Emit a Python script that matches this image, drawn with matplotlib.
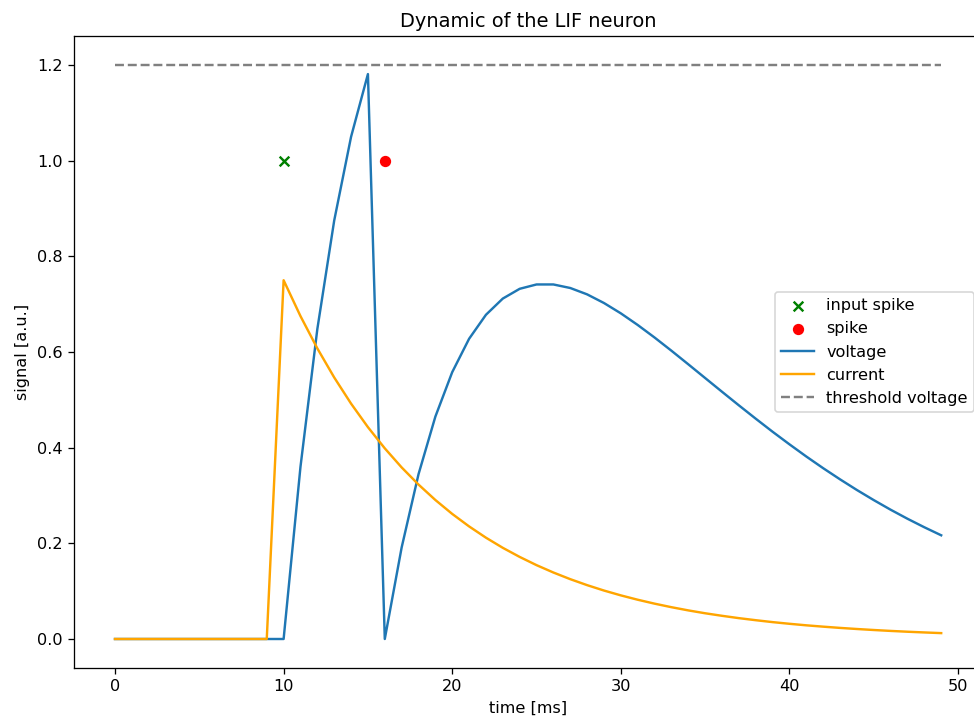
import numpy as np
import matplotlib
matplotlib.use("Agg")
import matplotlib.pyplot as plt

# time steps [ms]
time = list(range(50))

# synaptic current
current = [0.0] * 10 + [
    0.750, 0.675, 0.6075, 0.5468, 0.4921, 0.4429, 0.3986, 0.3587, 0.3229, 0.2906,
    0.2615, 0.2354, 0.2118, 0.1906, 0.1716, 0.1544, 0.1390, 0.1251, 0.1126, 0.1013,
    0.0912, 0.0821, 0.0739, 0.0665, 0.0598, 0.0538, 0.0485, 0.0436, 0.0393, 0.0353,
    0.0318, 0.0286, 0.0258, 0.0232, 0.0209, 0.0188, 0.0169, 0.0152, 0.0137, 0.0123,
]

# membrane voltage
voltage = [0.0] * 11 + [
    0.360, 0.648, 0.8748, 1.0498, 1.1810, 0.0,
    0.1913, 0.3444, 0.4649, 0.5579, 0.6276, 0.6778, 0.7117, 0.7321, 0.7412, 0.7412,
    0.7338, 0.7205, 0.7024, 0.6808, 0.6565, 0.6303, 0.6027, 0.5743, 0.5456, 0.5169,
    0.4885, 0.4606, 0.4333, 0.4070, 0.3815, 0.3571, 0.3338, 0.3115, 0.2904, 0.2703,
    0.2514, 0.2336, 0.2168,
]

threshold = 1.2
input_spike_t = [10]
input_spike_y = [1.0]
spike_t = [16]
spike_y = [1.0]

# the reference looks like a slightly upscaled default figure
dpi = 116
fig = plt.figure(figsize=(974 / dpi, 719 / dpi), dpi=dpi)
ax = fig.add_axes([73.7 / 974, 1 - 667.7 / 719, (982.5 - 73.7) / 974, (667.7 - 36.3) / 719])

ax.scatter(input_spike_t, input_spike_y, marker="x", color="green", label="input spike")
ax.scatter(spike_t, spike_y, marker="o", color="red", label="spike")
ax.plot(time, voltage, label="voltage")
ax.plot(time, current, color="orange", label="current")
ax.plot(time, [threshold] * len(time), "--", color="gray", label="threshold voltage")

ax.set_title("Dynamic of the LIF neuron")
ax.set_xlabel("time [ms]")
ax.set_ylabel("signal [a.u.]")
ax.legend(loc="center right")

fig.savefig("out.png", dpi=dpi)
